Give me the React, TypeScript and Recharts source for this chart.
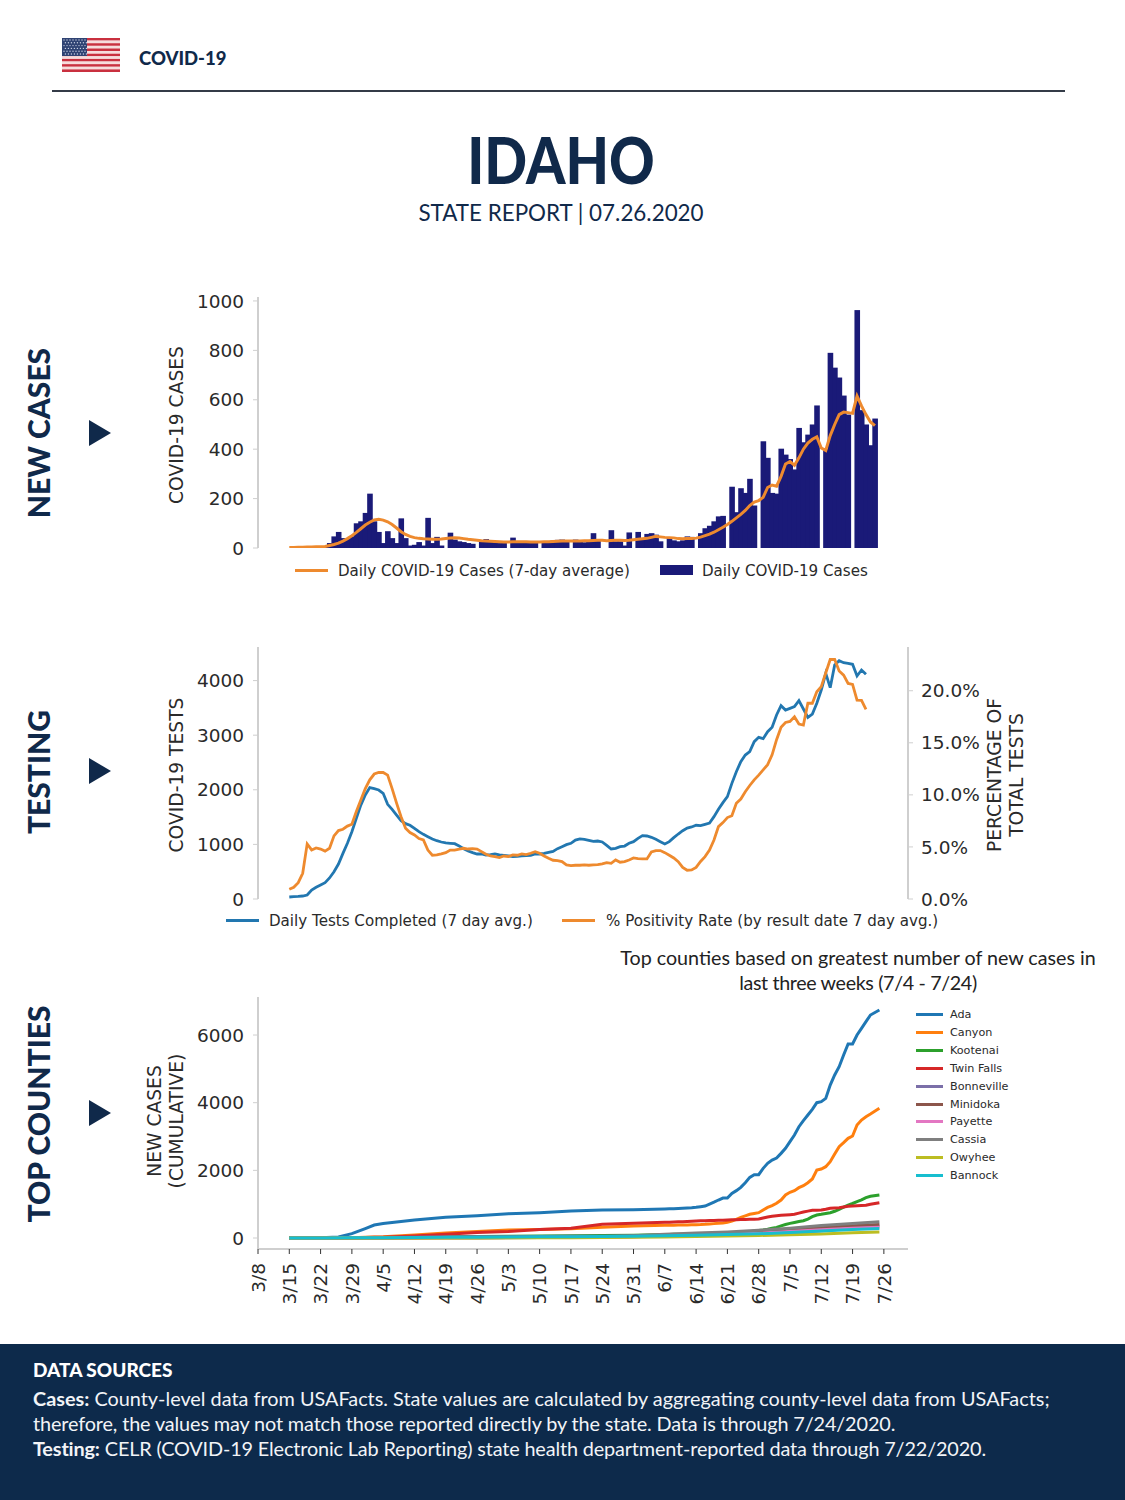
import { Bar, ComposedChart, Line, LineChart, XAxis, YAxis } from "recharts"

// day index: 0 = 3/8, daily series start at 3/15 (index 7)
const firstDay = 7
const dayDomain = [0, 145.4]
const xTickLabels = ["3/8", "3/15", "3/22", "3/29", "4/5", "4/12", "4/19", "4/26", "5/3", "5/10", "5/17", "5/24", "5/31", "6/7", "6/14", "6/21", "6/28", "7/5", "7/12", "7/19", "7/26"]
const xTicks = xTickLabels.map((_, i) => i * 7)

const dailyCases = [
  0, 0, 0, 0, 5, 0, 2,
  2, 5, 20, 47, 65, 40, 40,
  47, 100, 108, 142, 220, 108, 65,
  20, 68, 40, 20, 120, 40, 10,
  13, 24, 10, 122, 20, 45, 10,
  0, 62, 34, 27, 24, 20, 17,
  0, 25, 36, 25, 22, 20, 22,
  0, 42, 25, 22, 22, 22, 22,
  0, 25, 25, 30, 33, 34, 30,
  0, 34, 27, 23, 27, 60, 30,
  0, 0, 72, 27, 27, 10, 63,
  0, 65, 36, 57, 60, 54, 27,
  0, 40, 31, 27, 31, 47, 45,
  0, 60, 80, 90, 108, 128, 130,
  0, 248, 145, 242, 223, 280, 172,
  0, 432, 365, 223, 220, 402, 378,
  360, 318, 486, 428, 459, 500, 577,
  0, 400, 790, 730, 690, 617, 540,
  0, 963, 558, 500, 416, 524,
]
const avgCases = [
  2, 2, 3, 3, 4, 4, 5,
  5, 6, 10, 14, 20, 28, 38,
  50, 63, 78, 93, 104, 114, 116,
  113, 106, 95, 81, 66, 55, 47,
  42, 39, 37, 36, 35, 35, 36,
  38, 40, 41, 40, 38, 35, 33,
  31, 29, 28, 27, 26, 25, 24,
  24, 25, 25, 25, 25, 24, 24,
  24, 25, 25, 26, 27, 28, 28,
  28, 28, 28, 29, 29, 30, 31,
  31, 29, 30, 31, 31, 30, 31,
  33, 35, 37, 39, 43, 47, 45,
  43, 42, 41, 38, 37, 38, 38,
  40, 44, 50, 56, 64, 74, 84,
  95, 108, 122, 136, 152, 172, 186,
  192, 205, 245, 255, 250, 290, 340,
  350, 335, 365, 400, 425, 440, 450,
  405, 395, 455, 500, 540, 550, 548,
  545, 615, 575, 540, 510, 495,
]
const dailyTests = [
  37, 43, 48, 55, 73, 165, 214,
  256, 300, 385, 500, 640, 836, 1020,
  1233, 1477, 1720, 1905, 2040, 2020, 1996,
  1935, 1733, 1642, 1538, 1435, 1380, 1350,
  1294, 1233, 1184, 1142, 1100, 1068, 1044,
  1026, 1020, 1013, 970, 922, 879, 849,
  824, 824, 806, 812, 824, 806, 800,
  788, 775, 781, 788, 794, 800, 824,
  824, 836, 855, 873, 922, 958, 995,
  1020, 1080, 1100, 1093, 1074, 1056, 1062,
  1044, 983, 916, 928, 958, 970, 1020,
  1050, 1111, 1160, 1154, 1130, 1093, 1050,
  1007, 1050, 1123, 1190, 1250, 1300, 1319,
  1350, 1343, 1368, 1392, 1508, 1642, 1764,
  1874, 2118, 2332, 2515, 2637, 2698, 2881,
  2961, 2936, 3065, 3144, 3370, 3541, 3461,
  3492, 3522, 3632, 3480, 3327, 3388, 3584,
  3828, 4133, 3870, 4286, 4365, 4328, 4316,
  4298, 4084, 4194, 4115,
]
const positivity = [
  0.93, 1.12, 1.57, 2.47, 5.29, 4.71, 4.9,
  4.8, 4.6, 4.87, 6.06, 6.57, 6.7, 7.0,
  7.18, 8.4, 9.5, 10.6, 11.44, 12.0, 12.15,
  12.15, 11.9, 10.6, 9.2, 7.9, 6.8, 6.38,
  6.15, 5.8, 5.67, 4.7, 4.2, 4.23, 4.33,
  4.45, 4.7, 4.7, 4.78, 4.87, 4.8, 4.84,
  4.8, 4.55, 4.3, 4.13, 4.07, 3.97, 4.13,
  4.07, 4.23, 4.2, 4.33, 4.26, 4.39, 4.55,
  4.39, 4.13, 3.91, 3.72, 3.69, 3.59, 3.27,
  3.2, 3.24, 3.24, 3.27, 3.24, 3.27, 3.3,
  3.37, 3.49, 3.43, 3.75, 3.53, 3.59, 3.75,
  3.94, 3.88, 3.85, 3.85, 4.52, 4.65, 4.65,
  4.45, 4.2, 3.94, 3.59, 3.04, 2.76, 2.79,
  3.04, 3.6, 4.07, 4.7, 5.67, 6.95, 7.34,
  7.82, 8.0, 9.2, 9.6, 10.3, 10.9, 11.44,
  11.9, 12.4, 12.9, 13.85, 15.3, 16.5, 16.95,
  17.05, 17.5, 16.8, 16.7, 18.8, 18.8, 19.9,
  20.4, 21.7, 23, 23, 21.9, 21.5, 20.7,
  20.6, 19.1, 19.07, 18.2,
]

// big counties: weekly up to 6/7 with a few extra days in the first rise, daily after that
const bigCountyDays = [
  7, 14, 18, 21, 24, 26, 28, 35, 42, 49, 56, 63, 70, 77, 84, 91,
  92, 93, 94, 95, 96, 97, 98, 99, 100, 101, 102, 103, 104, 105, 106, 107, 108, 109, 110, 111, 112, 113, 114, 115,
  116, 117, 118, 119, 120, 121, 122, 123, 124, 125, 126, 127, 128, 129, 130, 131, 132, 133, 134, 135, 136, 137, 139,
]
const ada = [
  0, 5, 30, 128, 280, 385, 430, 530, 610, 660, 720, 750, 800, 830, 835, 857,
  862, 868, 875, 880, 887, 895, 906, 925, 946, 1005, 1060, 1123, 1182, 1182, 1320, 1400, 1497, 1635, 1793, 1872, 1872, 2059, 2207, 2305,
  2365, 2502, 2650, 2847, 3044, 3290, 3468, 3635, 3803, 4000, 4030, 4128, 4522, 4818, 5064, 5409, 5734, 5734, 6000, 6197, 6394, 6591, 6739,
]
const canyon = [
  0, 0, 3, 10, 22, 32, 40, 90, 150, 190, 235, 255, 270, 315, 355, 375,
  378, 380, 383, 386, 388, 391, 394, 398, 405, 415, 425, 437, 447, 463, 502, 550, 611, 655, 700, 725, 749, 828, 906, 956,
  1025, 1123, 1271, 1350, 1399, 1488, 1547, 1635, 1744, 2010, 2039, 2108, 2256, 2483, 2700, 2818, 2946, 3015, 3340, 3488, 3586, 3665, 3833,
]
const kootenai = [
  0, 0, 1, 3, 6, 8, 10, 20, 35, 45, 55, 60, 65, 72, 85, 105,
  107, 109, 112, 114, 116, 118, 120, 122, 125, 128, 130, 133, 137, 140, 146, 152, 160, 172, 187, 205, 220, 236, 260, 290,
  315, 360, 400, 433, 460, 490, 512, 560, 630, 680, 700, 725, 749, 790, 847, 910, 975, 1020, 1074, 1130, 1192, 1235, 1271,
]
const twinFalls = [
  0, 0, 2, 5, 14, 20, 25, 60, 110, 160, 190, 250, 290, 404, 433, 463,
  468, 473, 478, 483, 488, 495, 502, 507, 512, 516, 520, 524, 528, 532, 536, 540, 545, 548, 552, 556, 561, 590, 620, 640,
  660, 670, 680, 690, 700, 735, 768, 795, 818, 822, 828, 850, 877, 887, 897, 917, 936, 946, 956, 960, 966, 1000, 1044,
]
// smaller counties, read about once a week
const smallCountyDays = [7, 14, 21, 28, 35, 42, 49, 56, 63, 70, 77, 84, 91, 98, 105, 112, 119, 126, 133, 139]
const bonneville = [0, 0, 5, 15, 25, 30, 35, 40, 45, 50, 55, 60, 70, 80, 95, 115, 150, 215, 290, 360]
const minidoka = [0, 0, 1, 2, 3, 5, 8, 10, 15, 20, 25, 40, 65, 100, 130, 170, 230, 300, 360, 400]
const payette = [0, 0, 0, 2, 5, 8, 10, 14, 18, 22, 28, 40, 55, 80, 105, 140, 190, 245, 290, 320]
const cassia = [0, 0, 1, 3, 5, 8, 10, 12, 18, 25, 40, 70, 110, 150, 180, 230, 290, 370, 430, 480]
const owyhee = [0, 0, 0, 1, 1, 2, 3, 4, 5, 8, 12, 20, 30, 45, 60, 75, 95, 120, 155, 180]
const bannock = [0, 0, 5, 10, 15, 20, 25, 30, 35, 40, 45, 55, 65, 80, 100, 125, 160, 205, 250, 280]

const countySeries = [
  { name: "Ada", color: "#1f77b4", days: bigCountyDays, values: ada },
  { name: "Canyon", color: "#ff7f0e", days: bigCountyDays, values: canyon },
  { name: "Kootenai", color: "#2ca02c", days: bigCountyDays, values: kootenai },
  { name: "Twin Falls", color: "#d62728", days: bigCountyDays, values: twinFalls },
  { name: "Bonneville", color: "#7b6fa8", days: smallCountyDays, values: bonneville },
  { name: "Minidoka", color: "#8c564b", days: smallCountyDays, values: minidoka },
  { name: "Payette", color: "#e377c2", days: smallCountyDays, values: payette },
  { name: "Cassia", color: "#7f7f7f", days: smallCountyDays, values: cassia },
  { name: "Owyhee", color: "#bcbd22", days: smallCountyDays, values: owyhee },
  { name: "Bannock", color: "#17becf", days: smallCountyDays, values: bannock },
]

const casesTable = dailyCases.map((cases, i) => ({ day: firstDay + i, cases, avg: avgCases[i] }))
const testsTable = dailyTests.map((tests, i) => ({ day: firstDay + i, tests, positivity: positivity[i] }))

const NAVY = "#10294a"
const ORANGE = "#ee8a2e"
const BLUE = "#2277b0"
const BAR = "#1a1a78"
const AXIS = "#cfcfcf"
const INK = "#2a2a2a"
const BODY_FONT = "Lato, 'Noto Sans', sans-serif"
const PLOT_FONT = "'DejaVu Sans', sans-serif"
const BAR_WIDTH = 5.6

const tickStyle = { fontFamily: PLOT_FONT, fontSize: 18.5, fill: INK }

// recharts clamps barSize to the day step, the original bars overlap a little
function WideBar({ x, y, width, height, fill }: any) {
  return <rect x={x - (BAR_WIDTH - width) / 2} y={y} width={BAR_WIDTH} height={height} fill={fill} />
}

function DayTick({ x, y, payload }: any) {
  return (
    <text
      transform={`translate(${x},${y}) rotate(-90)`}
      textAnchor="end"
      dy=".36em"
      fontFamily={PLOT_FONT}
      fontSize={18.5}
      fill={INK}
    >
      {xTickLabels[payload.value / 7]}
    </text>
  )
}

function Rotated({ x, y, style, children }: any) {
  return (
    <div
      style={{
        position: "absolute",
        left: x,
        top: y,
        transform: "translate(-50%, -50%) rotate(-90deg)",
        whiteSpace: "nowrap",
        textAlign: "center",
        ...style,
      }}
    >
      {children}
    </div>
  )
}

function PlotLabel({ x, y, children }: any) {
  return (
    <Rotated x={x} y={y} style={{ fontFamily: PLOT_FONT, fontSize: 18.7, lineHeight: "22px", color: INK }}>
      {children}
    </Rotated>
  )
}

function SectionTitle({ x, y, text, arrowY }: any) {
  return (
    <>
      <Rotated x={x} y={y} style={{ fontFamily: BODY_FONT, fontWeight: 900, fontSize: 30, color: NAVY }}>
        {text}
      </Rotated>
      <svg style={{ position: "absolute", left: 89, top: arrowY - 13 }} width={22} height={26}>
        <polygon points="0,0 22,13 0,26" fill={NAVY} />
      </svg>
    </>
  )
}

function LegendItem({ x, y, textX, label, color, size = 15.1, swatch = "line" }: any) {
  const isBar = swatch === "bar"
  return (
    <>
      <div
        style={{
          position: "absolute",
          left: x,
          top: Math.round(isBar ? y - 5 : y - 1),
          width: size > 13 ? 33 : 27,
          height: isBar ? 10 : 3,
          background: color,
        }}
      />
      <div
        style={{
          position: "absolute",
          left: textX,
          top: y - 9,
          lineHeight: "20px",
          fontFamily: PLOT_FONT,
          fontSize: size,
          color: INK,
          whiteSpace: "nowrap",
        }}
      >
        {label}
      </div>
    </>
  )
}

function Flag() {
  const stripes = [0, 1, 2, 3, 4, 5, 6, 7, 8, 9, 10, 11, 12]
  const starRows = [0, 1, 2, 3, 4, 5]
  const starCols = [0, 1, 2, 3, 4, 5, 6, 7]
  return (
    <svg style={{ position: "absolute", left: 62, top: 38 }} width={58} height={34}>
      {stripes.map((s) => (
        <rect key={s} x={0} y={(s * 34) / 13} width={58} height={34 / 13} fill={s % 2 ? "#f6dcdc" : "#c9303f"} />
      ))}
      <rect x={0} y={0} width={25} height={18} fill="#2f4373" />
      {starRows.map((r) =>
        starCols.map((c) => (
          <circle key={`${r}-${c}`} cx={2 + c * 3 + (r % 2) * 1.4} cy={2 + r * 2.8} r={0.7} fill="#c8cfe2" />
        )),
      )}
    </svg>
  )
}

export default function App() {
  return (
    <div style={{ position: "absolute", left: 0, top: 0, width: 1125, height: 1500, background: "#fff", overflow: "hidden" }}>
      <Flag />
      <div style={{ position: "absolute", left: 139, top: 44, lineHeight: "28px", fontFamily: BODY_FONT, fontWeight: 900, fontSize: 18.5, color: NAVY }}>
        COVID-19
      </div>
      <div style={{ position: "absolute", left: 52, top: 89.5, width: 1013, height: 2, background: "#343b47" }} />
      <div style={{ position: "absolute", left: 0, width: 1122, top: 120, lineHeight: "80px", textAlign: "center", fontFamily: BODY_FONT, fontWeight: 900, fontSize: 64, color: NAVY, transform: "scaleX(0.88)" }}>
        IDAHO
      </div>
      <div style={{ position: "absolute", left: 0, width: 1122, top: 198, lineHeight: "30px", textAlign: "center", fontFamily: BODY_FONT, fontSize: 22.4, color: NAVY }}>
        STATE REPORT | 07.26.2020
      </div>

      <SectionTitle x={38} y={433} text="NEW CASES" arrowY={433} />
      <SectionTitle x={38} y={772} text="TESTING" arrowY={771} />
      <SectionTitle x={38} y={1114} text="TOP COUNTIES" arrowY={1113} />

      <PlotLabel x={177} y={425}>COVID-19 CASES</PlotLabel>
      <PlotLabel x={177} y={775}>COVID-19 TESTS</PlotLabel>
      <PlotLabel x={1006} y={775}>PERCENTAGE OF<br />TOTAL TESTS</PlotLabel>
      <PlotLabel x={166} y={1121}>NEW CASES<br />(CUMULATIVE)</PlotLabel>

      <div style={{ position: "absolute", left: 140, top: 287 }}>
        <ComposedChart width={900} height={271} data={casesTable} margin={{ top: 10, right: 132, bottom: 10, left: 58 }}>
          <XAxis dataKey="day" type="number" domain={dayDomain} allowDataOverflow hide />
          <YAxis
            width={60}
            domain={[0, 1016]}
            allowDataOverflow
            interval={0}
            ticks={[0, 200, 400, 600, 800, 1000]}
            tick={tickStyle}
            tickSize={5}
            tickMargin={9}
            axisLine={{ stroke: AXIS, strokeWidth: 2 }}
            tickLine={{ stroke: AXIS }}
          />
          <Bar dataKey="cases" fill={BAR} shape={WideBar} isAnimationActive={false} />
          <Line dataKey="avg" stroke={ORANGE} strokeWidth={3} dot={false} isAnimationActive={false} />
        </ComposedChart>
      </div>
      <LegendItem x={295} y={570} textX={338} label="Daily COVID-19 Cases (7-day average)" color={ORANGE} />
      <LegendItem x={660} y={570} textX={702} label="Daily COVID-19 Cases" color={BAR} swatch="bar" />

      <div style={{ position: "absolute", left: 140, top: 637 }}>
        <LineChart width={900} height={272} data={testsTable} margin={{ top: 10, right: 62, bottom: 10, left: 58 }}>
          <XAxis dataKey="day" type="number" domain={dayDomain} allowDataOverflow hide />
          <YAxis
            yAxisId="tests"
            width={60}
            domain={[0, 4615]}
            allowDataOverflow
            interval={0}
            ticks={[0, 1000, 2000, 3000, 4000]}
            tick={tickStyle}
            tickSize={5}
            tickMargin={9}
            axisLine={{ stroke: AXIS, strokeWidth: 2 }}
            tickLine={{ stroke: AXIS }}
          />
          <YAxis
            yAxisId="pct"
            orientation="right"
            width={70}
            domain={[0, 24.2]}
            allowDataOverflow
            interval={0}
            ticks={[0, 5, 10, 15, 20]}
            tickFormatter={(v: number) => `${v.toFixed(1)}%`}
            tick={tickStyle}
            tickSize={5}
            tickMargin={8}
            axisLine={{ stroke: AXIS, strokeWidth: 2 }}
            tickLine={{ stroke: AXIS }}
          />
          <Line yAxisId="tests" dataKey="tests" stroke={BLUE} strokeWidth={2.8} dot={false} isAnimationActive={false} />
          <Line yAxisId="pct" dataKey="positivity" stroke={ORANGE} strokeWidth={2.8} dot={false} isAnimationActive={false} />
        </LineChart>
      </div>
      <LegendItem x={226} y={920} textX={269} label="Daily Tests Completed (7 day avg.)" color={BLUE} />
      <LegendItem x={562} y={920} textX={606} label="% Positivity Rate (by result date 7 day avg.)" color={ORANGE} />

      <div style={{ position: "absolute", left: 558, width: 600, top: 945, textAlign: "center", lineHeight: "25px", whiteSpace: "nowrap", fontFamily: BODY_FONT, fontSize: 19.7, color: "#222" }}>
        Top counties based on greatest number of new cases in<br />
        <span style={{ letterSpacing: -0.35 }}>last three weeks (7/4 - 7/24)</span>
      </div>

      <div style={{ position: "absolute", left: 140, top: 987 }}>
        <LineChart width={900} height={333} margin={{ top: 10, right: 132, bottom: 11, left: 58 }}>
          <XAxis
            dataKey="day"
            type="number"
            domain={dayDomain}
            allowDataOverflow
            ticks={xTicks}
            interval={0}
            height={60}
            tick={<DayTick />}
            tickSize={5}
            tickMargin={9}
            axisLine={{ stroke: AXIS, strokeWidth: 2 }}
            tickLine={{ stroke: "#333" }}
          />
          <YAxis
            width={60}
            domain={[-325, 7124]}
            allowDataOverflow
            interval={0}
            ticks={[0, 2000, 4000, 6000]}
            tick={tickStyle}
            tickSize={5}
            tickMargin={9}
            axisLine={{ stroke: AXIS, strokeWidth: 2 }}
            tickLine={{ stroke: AXIS }}
          />
          {countySeries.map((s) => (
            <Line
              key={s.name}
              name={s.name}
              data={s.days.map((day, i) => ({ day, value: s.values[i] }))}
              dataKey="value"
              stroke={s.color}
              strokeWidth={3}
              dot={false}
              isAnimationActive={false}
            />
          ))}
        </LineChart>
      </div>
      {countySeries.map((s, i) => (
        <LegendItem key={s.name} x={916} y={1014 + i * 17.9} textX={950} label={s.name} color={s.color} size={11.2} />
      ))}

      <div style={{ position: "absolute", left: 0, top: 1344, width: 1125, height: 156, background: "#0d2a4b", color: "#fff", fontFamily: BODY_FONT }}>
        <div style={{ position: "absolute", left: 33, top: 13, lineHeight: "25px", fontSize: 19, fontWeight: 900 }}>DATA SOURCES</div>
        <div style={{ position: "absolute", left: 33, top: 42, lineHeight: "25px", fontSize: 19.85, whiteSpace: "nowrap", color: "#f2f4f7" }}>
          <b>Cases:</b> County-level data from USAFacts. State values are calculated by aggregating county-level data from USAFacts;<br />
          <span style={{ letterSpacing: -0.13 }}>therefore, the values may not match those reported directly by the state. Data is through 7/24/2020.</span><br />
          <span style={{ letterSpacing: -0.15 }}><b>Testing:</b> CELR (COVID-19 Electronic Lab Reporting) state health department-reported data through 7/22/2020.</span>
        </div>
      </div>
    </div>
  )
}
